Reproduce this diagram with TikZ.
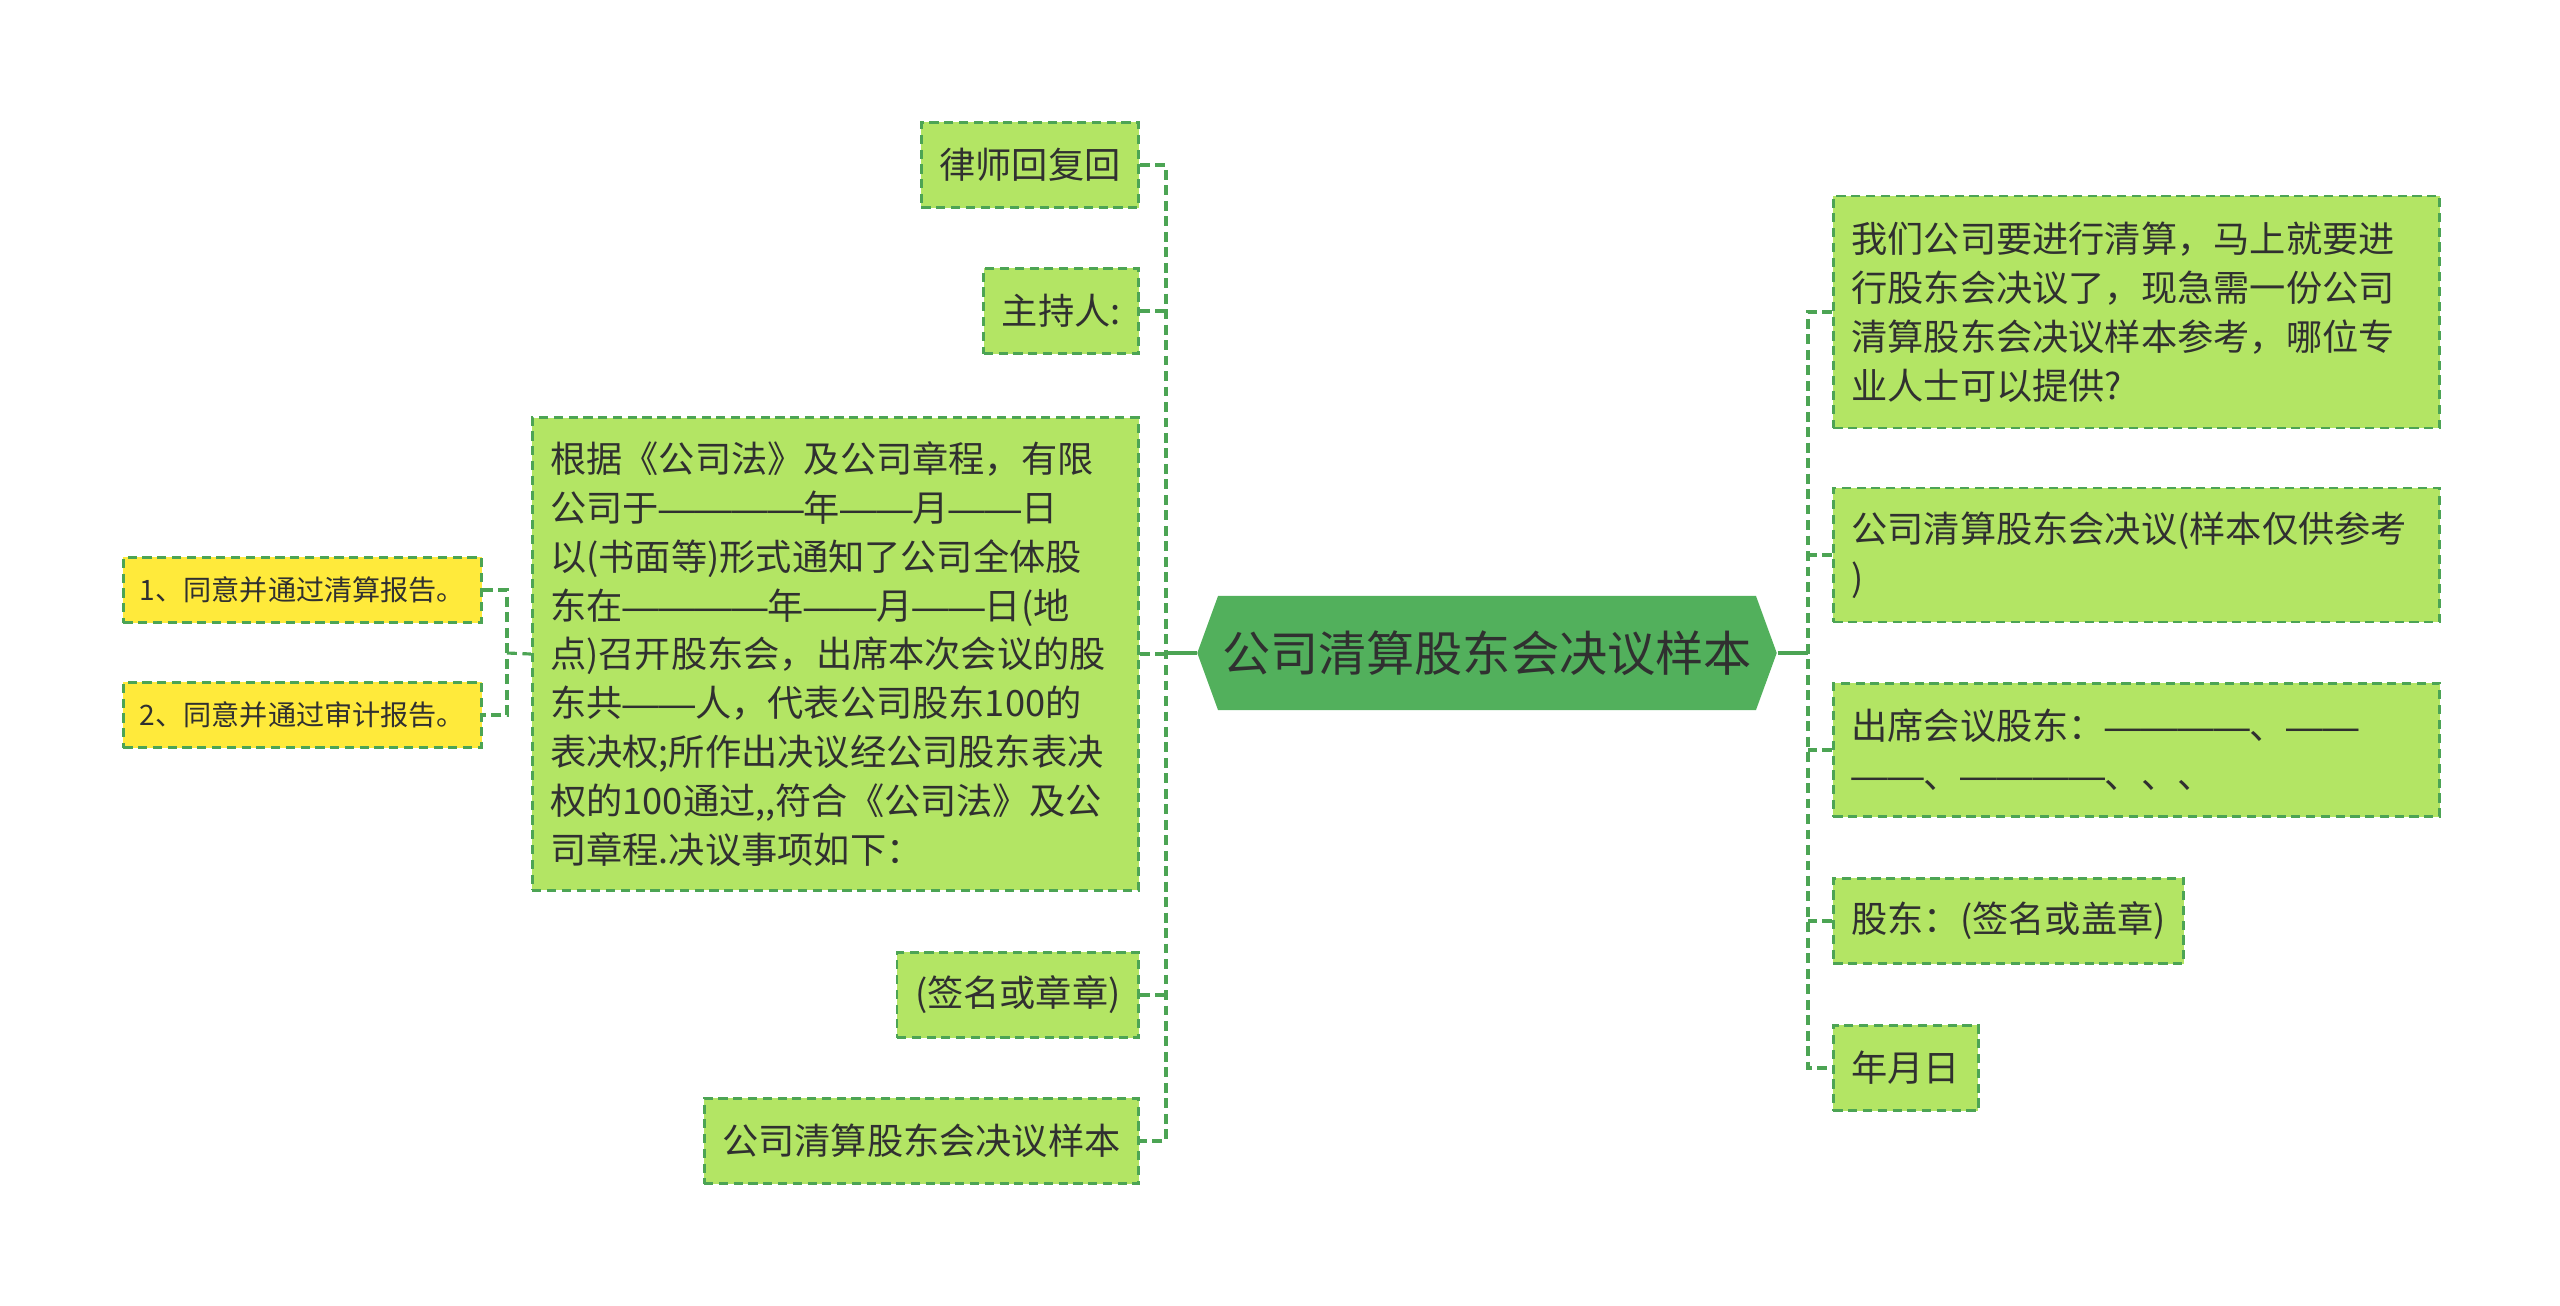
\documentclass[tikz,border=0pt]{standalone}
\usepackage{fontspec}
\setmainfont{Noto Sans CJK SC}
\newfontfamily\fwdash{Liberation Sans}
\usepackage{xcolor}
\usetikzlibrary{shapes.symbols}
\definecolor{leafgreen}{HTML}{B3E564}
\definecolor{linegreen}{HTML}{4CA454}
\definecolor{rootgreen}{HTML}{52B05C}
\definecolor{noteyellow}{HTML}{FFEA3B}
\definecolor{inkgrey}{HTML}{303030}

\begin{document}
\begin{tikzpicture}[x=0.01cm, y=-0.01cm,
    every node/.style={text=inkgrey, inner xsep=0.18cm},
    leaf/.style={draw=linegreen, line width=0.8pt, dash pattern=on 2.6pt off 1.6pt, fill=leafgreen,
        font=\fontsize{10.3}{13.9}\selectfont, minimum height=0.85cm},
    note/.style={leaf, fill=noteyellow, font=\fontsize{8}{10}\selectfont, minimum height=0.65cm,
        minimum width=3.58cm, inner xsep=0.13cm},
    link/.style={draw=linegreen, line width=0.9pt, dash pattern=on 2.8pt off 1.6pt},
    stub/.style={draw=linegreen, line width=1pt},
    root/.style={shape=signal, signal to=west and east, signal pointer angle=140, fill=rootgreen,
        font=\fontsize{13.7}{16}\selectfont, inner xsep=0.04cm, minimum height=1.14cm}]
    \useasboundingbox (0,0) rectangle (2560,1306);

    \node[root] (c) at (1487,653) {公司清算股东会决议样本};

    \node[leaf, anchor=east] (l1) at (1140,165) {律师回复回};
    \node[leaf, anchor=east] (l2) at (1140,311) {主持人:};
    \node[leaf, anchor=east, text width=5.7cm, align=left, minimum height=4.72cm] (l3) at (1140,654)
        {根据《公司法》及公司章程，有限\\公司于{\fwdash ————}年{\fwdash ——}月{\fwdash ——}日\\以(书面等)形式通知了公司全体股\\东在{\fwdash ————}年{\fwdash ——}月{\fwdash ——}日(地\\点)召开股东会，出席本次会议的股\\东共{\fwdash ——}人，代表公司股东100的\\表决权;所作出决议经公司股东表决\\权的100通过,{},符合《公司法》及公\\司章程.决议事项如下：};
    \node[leaf, anchor=east] (l4) at (1140,995) {(签名或章章)};
    \node[leaf, anchor=east] (l5) at (1140,1141) {公司清算股东会决议样本};

    \node[note, anchor=west] (y1) at (122,590) {1、同意并通过清算报告。};
    \node[note, anchor=west] (y2) at (122,715) {2、同意并通过审计报告。};

    \node[leaf, anchor=west, text width=5.7cm, align=left, minimum height=2.32cm] (r1) at (1832,312)
        {我们公司要进行清算，马上就要进\\行股东会决议了，现急需一份公司\\清算股东会决议样本参考，哪位专\\业人士可以提供?};
    \node[leaf, anchor=west, text width=5.7cm, align=left, minimum height=1.34cm] (r2) at (1832,555)
        {公司清算股东会决议(样本仅供参考\\)};
    \node[leaf, anchor=west, text width=5.7cm, align=left, minimum height=1.33cm] (r3) at (1832,750)
        {出席会议股东：{\fwdash ————}、{\fwdash ——}\\{\fwdash ——}、{\fwdash ————}、、、};
    \node[leaf, anchor=west] (r4) at (1832,921) {股东：(签名或盖章)};
    \node[leaf, anchor=west] (r5) at (1832,1068) {年月日};

    \coordinate (lspine) at (1166,653);
    \coordinate (rspine) at (1808,653);
    \coordinate (yspine) at (507,653);

    \draw[stub] (c.west) -- (lspine);
    \draw[stub] (c.east) -- (rspine);
    \draw[link] (l1.east) -- (l1.east -| lspine) -- (l5.east -| lspine) -- (l5.east);
    \foreach \n in {l2,l3,l4}
        \draw[link] (\n.east) -- (\n.east -| lspine);
    \draw[link] (r1.west) -- (r1.west -| rspine) -- (r5.west -| rspine) -- (r5.west);
    \foreach \n in {r2,r3,r4}
        \draw[link] (\n.west) -- (\n.west -| rspine);
    \draw[link] (y1.east) -- (y1.east -| yspine) -- (y2.east -| yspine) -- (y2.east);
    \draw[link] (yspine) -- (l3.west);
\end{tikzpicture}
\end{document}
